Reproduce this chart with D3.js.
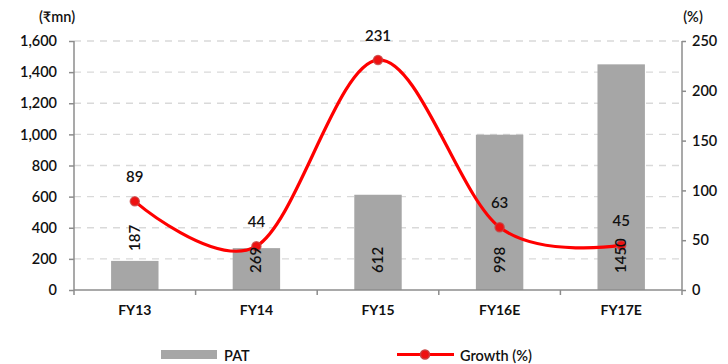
<!DOCTYPE html>
<html>
<head>
<meta charset="utf-8">
<script src="https://cdn.jsdelivr.net/npm/d3@7/dist/d3.min.js"></script>
<style>
  body { margin: 0; background: #fff; }
  svg { display: block; font-family: "Lato", "DejaVu Sans", sans-serif; }
</style>
</head>
<body>
<svg id="chart" width="728" height="364"></svg>
<script>
// PAT (₹mn) and year-on-year growth (%)
const categories = ["FY13", "FY14", "FY15", "FY16E", "FY17E"];
const patValues = [187, 269, 612, 998, 1450];
const growthValues = [89, 44, 231, 63, 45];
const leftTicks = [0, 200, 400, 600, 800, 1000, 1200, 1400, 1600];
const rightTicks = [0, 50, 100, 150, 200, 250];

const svg = d3.select("#chart");
const margin = { left: 74, right: 46, top: 41, bottom: 74 };
const W = 728, H = 364;
const plotW = W - margin.left - margin.right;
const plotH = H - margin.top - margin.bottom;

const g = svg.append("g").attr("transform", `translate(${margin.left},${margin.top})`);

const x = d3.scaleBand().domain(categories).range([0, plotW]).paddingInner(0).paddingOuter(0);
const yL = d3.scaleLinear().domain([0, 1600]).range([plotH, 0]);
const yR = d3.scaleLinear().domain([0, 250]).range([plotH, 0]);

const axisColor = "#8c8c8c";
const fmt = d3.format(",");

// dashed gridlines on left-axis ticks
g.append("g").selectAll("line")
  .data(leftTicks.filter(d => d > 0))
  .join("line")
  .attr("x1", 0).attr("x2", plotW)
  .attr("y1", d => yL(d)).attr("y2", d => yL(d))
  .attr("stroke", "#d9d9d9").attr("stroke-width", 1.3)
  .attr("stroke-dasharray", "7,6");

// bars
const barW = x.bandwidth() * 0.39;
g.append("g").selectAll("rect")
  .data(patValues)
  .join("rect")
  .attr("x", (d, i) => x(categories[i]) + (x.bandwidth() - barW) / 2)
  .attr("width", barW)
  .attr("y", d => yL(d))
  .attr("height", d => plotH - yL(d))
  .attr("fill", "#a6a6a6");

// left axis
const leftAxis = g.append("g")
  .call(d3.axisLeft(yL).tickValues(leftTicks).tickFormat(fmt).tickSize(5).tickPadding(12));
// right axis
const rightAxis = g.append("g").attr("transform", `translate(${plotW},0)`)
  .call(d3.axisRight(yR).tickValues(rightTicks).tickSize(4).tickPadding(6));
// bottom axis: ticks at band boundaries
const bottomAxis = g.append("g").attr("transform", `translate(0,${plotH})`)
  .call(d3.axisBottom(x).tickSize(0).tickPadding(15));

[leftAxis, rightAxis, bottomAxis].forEach(a => {
  a.select(".domain").attr("stroke", axisColor).attr("stroke-width", 1.5);
  a.selectAll(".tick line").attr("stroke", axisColor).attr("stroke-width", 1.5);
  a.selectAll("text").attr("fill", "#111").attr("font-size", 14.5)
    .attr("font-family", "Lato, sans-serif").attr("font-weight", 600);
});
bottomAxis.select(".domain").attr("d", `M0,0H${plotW}`);
bottomAxis.selectAll("text").attr("font-weight", 700).attr("font-size", 14);
leftAxis.select(".domain").attr("d", `M0,0V${plotH}`);
rightAxis.select(".domain").attr("d", `M0,0V${plotH}`);

bottomAxis.append("g").selectAll("line")
  .data(d3.range(categories.length + 1))
  .join("line")
  .attr("x1", i => i * x.step()).attr("x2", i => i * x.step())
  .attr("y1", 0).attr("y2", 5)
  .attr("stroke", axisColor).attr("stroke-width", 1.5);

// axis titles
svg.append("text").attr("x", 57).attr("y", 22).attr("text-anchor", "middle")
  .attr("font-size", 14.5).attr("font-weight", 600).attr("fill", "#111").text("(₹mn)");
svg.append("text").attr("x", 693).attr("y", 22).attr("text-anchor", "middle")
  .attr("font-size", 14.5).attr("font-weight", 600).attr("fill", "#111").text("(%)");

// growth line (smoothed)
const cx = (d, i) => x(categories[i]) + x.bandwidth() / 2;
const line = d3.line().x(cx).y(d => yR(d)).curve(d3.curveCardinal.tension(0));
g.append("path").datum(growthValues)
  .attr("d", line)
  .attr("fill", "none").attr("stroke", "#ff0000").attr("stroke-width", 3.2);

g.append("g").selectAll("circle")
  .data(growthValues)
  .join("circle")
  .attr("cx", cx).attr("cy", d => yR(d)).attr("r", 4.5)
  .attr("fill", "#ee1111").attr("stroke", "#c8403f").attr("stroke-opacity", 0.8).attr("stroke-width", 1.5);

// growth labels
g.append("g").selectAll("text")
  .data(growthValues)
  .join("text")
  .attr("x", cx).attr("y", d => yR(d) - 19)
  .attr("text-anchor", "middle")
  .attr("font-size", 15).attr("font-weight", 600).attr("fill", "#111")
  .text(d => d);

// PAT value labels, rotated, near the base (above short bars)
g.append("g").selectAll("text")
  .data(patValues)
  .join("text")
  .attr("transform", (d, i) => {
    const bx = x(categories[i]) + x.bandwidth() / 2 + 5;
    const h = plotH - yL(d);
    const by = h < 35 ? yL(d) - 10 : plotH - 17;
    return `translate(${bx},${by}) rotate(-90)`;
  })
  .attr("text-anchor", "start")
  .attr("font-size", 15).attr("font-weight", 600).attr("fill", "#111")
  .text(d => d);

// legend
const lg = svg.append("g");
lg.append("rect").attr("x", 161).attr("y", 350).attr("width", 56).attr("height", 9).attr("fill", "#a6a6a6");
lg.append("text").attr("x", 224).attr("y", 361).attr("font-size", 14.5).attr("font-weight", 600).attr("fill", "#111").text("PAT");
lg.append("line").attr("x1", 397).attr("x2", 454).attr("y1", 354.5).attr("y2", 354.5)
  .attr("stroke", "#ff0000").attr("stroke-width", 3.2);
lg.append("circle").attr("cx", 425).attr("cy", 354.5).attr("r", 4.5)
  .attr("fill", "#ee1111").attr("stroke", "#c8403f").attr("stroke-width", 1.5);
lg.append("text").attr("x", 460).attr("y", 361).attr("font-size", 14.5).attr("font-weight", 600).attr("fill", "#111").text("Growth (%)");
</script>
</body>
</html>
